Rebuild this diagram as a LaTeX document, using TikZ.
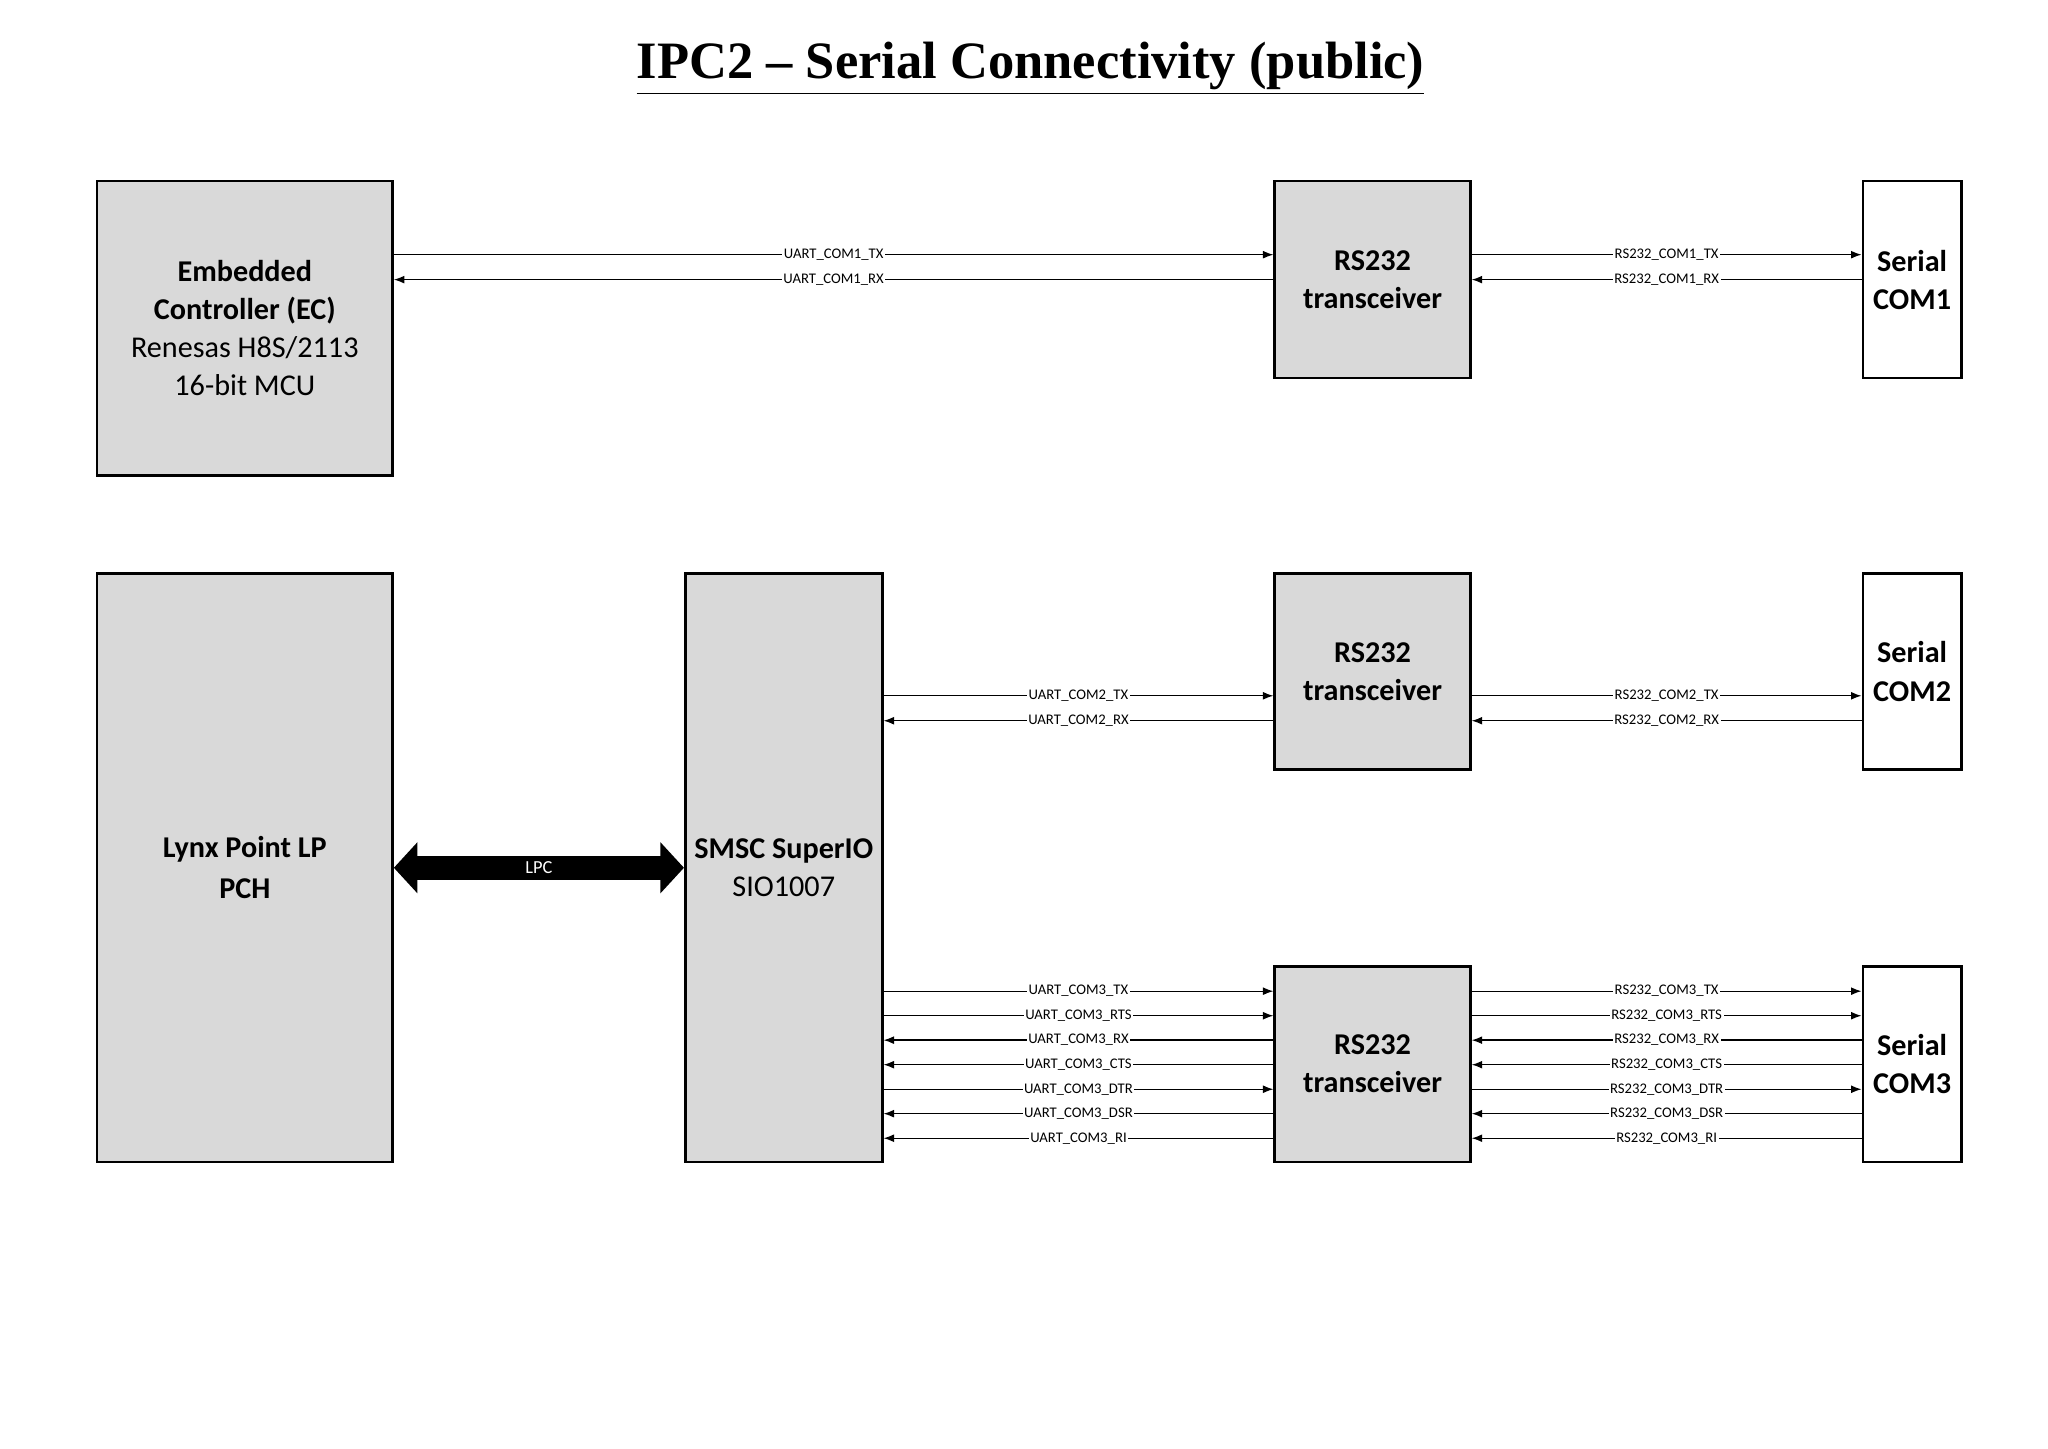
\documentclass[tikz,border=0pt]{standalone}
\usepackage{fontspec}
\setmainfont{Carlito}
\newfontfamily\titlefont{Liberation Serif}
\usetikzlibrary{arrows.meta}
\begin{document}
\begin{tikzpicture}[x=0.5pt,y=-0.5pt,
  box/.style={draw=black,line width=1pt,fill=black!15,align=center,font=\fontsize{11.5}{14.5}\selectfont,inner sep=0pt},
  wbox/.style={box,fill=white},
  sig/.style={line width=0.5pt,-{Latex[length=4pt,width=3pt]}},
  lab/.style={fill=white,inner sep=0.6pt,font=\fontsize{5.6}{6}\selectfont}]
\useasboundingbox (0,0) rectangle (1560,1103);
\node[font=\titlefont\fontsize{20}{24}\selectfont\bfseries] (title) at (785,52) {\underline{IPC2 – Serial Connectivity (public)}};
% boxes
\node[box,minimum width=112.5pt,minimum height=112pt] (ec) at (186.5,250) {\textbf{Embedded}\\\textbf{Controller (EC)}\\Renesas H8S/2113\\16-bit MCU};
\node[box,minimum width=74.5pt,minimum height=75pt] (t1) at (1045.5,213) {\textbf{RS232}\\\textbf{transceiver}};
\node[wbox,minimum width=37.5pt,minimum height=75pt] (c1) at (1456.5,213) {\textbf{Serial}\\\textbf{COM1}};
\node[box,minimum width=112.5pt,minimum height=224pt,font=\fontsize{11.5}{15.5}\selectfont] (pch) at (186.5,661) {\textbf{Lynx Point LP}\\\textbf{PCH}};
\node[box,minimum width=75pt,minimum height=224pt] (sio) at (597,661) {\textbf{SMSC SuperIO}\\SIO1007};
\node[box,minimum width=74.5pt,minimum height=74.5pt] (t2) at (1045.5,511.5) {\textbf{RS232}\\\textbf{transceiver}};
\node[wbox,minimum width=37.5pt,minimum height=74.5pt] (c2) at (1456.5,511.5) {\textbf{Serial}\\\textbf{COM2}};
\node[box,minimum width=74.5pt,minimum height=74.5pt] (t3) at (1045.5,810.5) {\textbf{RS232}\\\textbf{transceiver}};
\node[wbox,minimum width=37.5pt,minimum height=74.5pt] (c3) at (1456.5,810.5) {\textbf{Serial}\\\textbf{COM3}};
% LPC
\draw[line width=9pt,{Triangle[length=9pt,width=19pt]}-{Triangle[length=9pt,width=19pt]}] (pch.east|-0,661) -- node[text=white,font=\fontsize{7}{8}\selectfont] (lpc) {LPC} (sio.west|-0,661);
% COM1
\draw[sig] (ec.east|-0,194) -- node[lab] (l1) {UART\_COM1\_TX} (t1.west|-0,194);
\draw[sig] (t1.west|-0,213) -- node[lab] (l2) {UART\_COM1\_RX} (ec.east|-0,213);
\draw[sig] (t1.east|-0,194) -- node[lab] (l3) {RS232\_COM1\_TX} (c1.west|-0,194);
\draw[sig] (c1.west|-0,213) -- node[lab] (l4) {RS232\_COM1\_RX} (t1.east|-0,213);
% COM2
\draw[sig] (sio.east|-0,530) -- node[lab] (l5) {UART\_COM2\_TX} (t2.west|-0,530);
\draw[sig] (t2.west|-0,549) -- node[lab] (l6) {UART\_COM2\_RX} (sio.east|-0,549);
\draw[sig] (t2.east|-0,530) -- node[lab] (l7) {RS232\_COM2\_TX} (c2.west|-0,530);
\draw[sig] (c2.west|-0,549) -- node[lab] (l8) {RS232\_COM2\_RX} (t2.east|-0,549);
% COM3
\foreach \y/\n/\d in {755/TX/1,773.7/RTS/1,792.3/RX/0,811/CTS/0,829.7/DTR/1,848.3/DSR/0,867/RI/0}{
  \ifnum\d=1
    \draw[sig] (sio.east|-0,\y) -- node[lab] {UART\_COM3\_\n} (t3.west|-0,\y);
    \draw[sig] (t3.east|-0,\y) -- node[lab] {RS232\_COM3\_\n} (c3.west|-0,\y);
  \else
    \draw[sig] (t3.west|-0,\y) -- node[lab] {UART\_COM3\_\n} (sio.east|-0,\y);
    \draw[sig] (c3.west|-0,\y) -- node[lab] {RS232\_COM3\_\n} (t3.east|-0,\y);
  \fi
}
\end{tikzpicture}
\end{document}
